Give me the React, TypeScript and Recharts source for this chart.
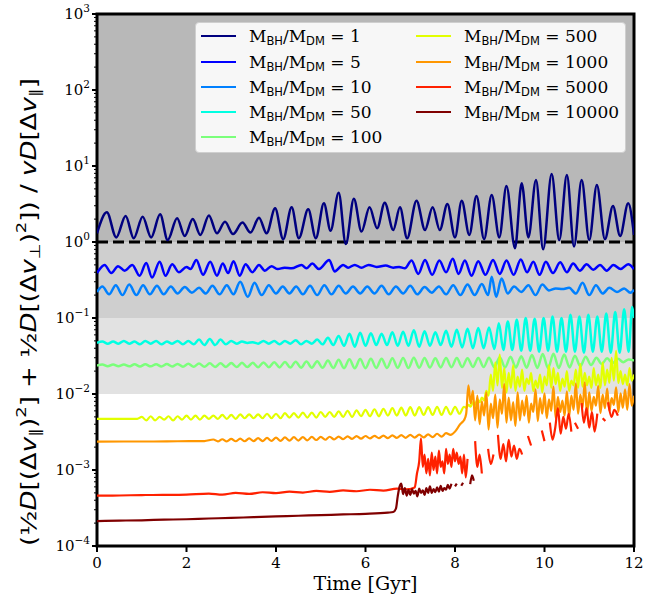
import React from "react";
import {
  LineChart,
  Line,
  XAxis,
  YAxis,
  ReferenceArea,
  ReferenceLine,
  Legend,
  Label,
} from "recharts";

// mass ratios and jet colours
const ratios = ["1", "5", "10", "50", "100", "500", "1000", "5000", "10000"];
const colors = [
  "#00007f",
  "#0000ff",
  "#0080ff",
  "#00ffe2",
  "#7bff7b",
  "#e2ff00",
  "#ff9700",
  "#ff2100",
  "#800000",
];

const xTicks = [0, 2, 4, 6, 8, 10, 12];
const yMajor = [1e-4, 1e-3, 1e-2, 1e-1, 1, 10, 100, 1000];
const yMinorMult = [2, 3, 4, 5, 6, 7, 8, 9];

// [time Gyr, ratio]
const m1 = [
  [0, 1.3], [0.22, 2.46], [0.43, 1.15], [0.64, 2.2], [0.82, 1.12], [1.02, 2.15], [1.21, 1.15],
  [1.41, 2.31], [1.58, 1.06], [1.79, 2.05], [1.96, 1.2], [2.14, 2.0], [2.31, 1.24], [2.5, 2.24],
  [2.68, 1.3], [2.86, 1.85], [3.04, 1.27], [3.25, 1.8], [3.43, 1.33], [3.62, 2.09], [3.79, 1.3],
  [3.98, 2.77], [4.16, 1.09], [4.35, 2.86], [4.51, 1.12], [4.72, 2.69], [4.89, 1.12], [5.07, 3.23],
  [5.22, 1.41], [5.4, 4.45], [5.56, 0.94], [5.74, 3.71], [5.91, 1.37], [6.09, 2.86], [6.26, 1.52],
  [6.43, 3.29], [6.62, 1.44], [6.77, 2.86], [6.93, 1.12], [7.14, 3.49], [7.33, 1.44], [7.5, 2.86],
  [7.66, 1.44], [7.83, 3.16], [8.0, 1.15], [8.15, 3.49], [8.32, 1.24], [8.48, 4.03], [8.65, 1.09],
  [8.82, 4.15], [8.99, 1.15], [9.15, 5.45], [9.34, 0.83], [9.49, 5.92], [9.64, 1.15], [9.81, 6.54],
  [9.97, 0.8], [10.16, 7.85], [10.33, 1.06], [10.5, 7.62], [10.66, 0.87], [10.83, 6.54], [11.0, 1.06],
  [11.17, 5.63], [11.35, 1.09], [11.53, 2.98], [11.69, 1.2], [11.87, 3.23], [12, 1.24],
];

const m5 = [
  [0, 0.39], [0.17, 0.5], [0.32, 0.39], [0.47, 0.48], [0.62, 0.42], [0.79, 0.5], [0.95, 0.36],
  [1.1, 0.53], [1.23, 0.34], [1.4, 0.55], [1.53, 0.36], [1.68, 0.51], [1.83, 0.4], [2.0, 0.47],
  [2.09, 0.44], [2.22, 0.58], [2.37, 0.37], [2.53, 0.55], [2.68, 0.36], [2.81, 0.52], [2.93, 0.39],
  [3.05, 0.56], [3.19, 0.36], [3.32, 0.51], [3.47, 0.4], [3.62, 0.5], [3.75, 0.42], [3.9, 0.48],
  [4.04, 0.44], [4.19, 0.46], [4.35, 0.45], [4.57, 0.5], [4.68, 0.45], [4.81, 0.52], [4.96, 0.44],
  [5.19, 0.58], [5.31, 0.41], [5.5, 0.5], [5.61, 0.46], [5.76, 0.5], [5.91, 0.46], [6.07, 0.5],
  [6.25, 0.47], [6.45, 0.49], [6.62, 0.46], [6.75, 0.47], [6.88, 0.45], [7.03, 0.57], [7.18, 0.38],
  [7.33, 0.58], [7.49, 0.37], [7.65, 0.57], [7.8, 0.4], [7.95, 0.6], [8.08, 0.38], [8.22, 0.57],
  [8.37, 0.36], [8.52, 0.56], [8.68, 0.37], [8.85, 0.58], [9.0, 0.38], [9.15, 0.57], [9.31, 0.37],
  [9.47, 0.59], [9.61, 0.4], [9.75, 0.55], [9.89, 0.37], [10.03, 0.55], [10.19, 0.39], [10.35, 0.54],
  [10.5, 0.4], [10.64, 0.52], [10.79, 0.42], [10.94, 0.51], [11.09, 0.43], [11.24, 0.5], [11.39, 0.42],
  [11.54, 0.5], [11.7, 0.44], [11.87, 0.51], [12, 0.44],
];

const m10 = [
  [0, 0.22], [0.12, 0.26], [0.27, 0.205], [0.42, 0.27], [0.57, 0.2], [0.72, 0.275], [0.88, 0.2],
  [1.03, 0.27], [1.18, 0.205], [1.34, 0.265], [1.49, 0.205], [1.65, 0.26], [1.8, 0.21], [1.96, 0.255],
  [2.12, 0.215], [2.28, 0.25], [2.43, 0.21], [2.58, 0.265], [2.74, 0.205], [2.9, 0.27], [3.05, 0.205],
  [3.2, 0.3], [3.37, 0.19], [3.52, 0.29], [3.68, 0.2], [3.84, 0.27], [4.0, 0.21], [4.15, 0.26],
  [4.3, 0.21], [4.45, 0.26], [4.6, 0.205], [4.76, 0.265], [4.92, 0.2], [5.08, 0.27], [5.24, 0.205],
  [5.4, 0.265], [5.56, 0.21], [5.72, 0.26], [5.88, 0.21], [6.04, 0.26], [6.2, 0.21], [6.36, 0.265],
  [6.52, 0.205], [6.68, 0.26], [6.84, 0.21], [7.0, 0.265], [7.16, 0.205], [7.32, 0.255], [7.48, 0.215],
  [7.64, 0.26], [7.8, 0.205], [7.96, 0.27], [8.12, 0.2], [8.28, 0.275], [8.44, 0.2], [8.6, 0.28],
  [8.74, 0.2], [8.82, 0.35], [8.92, 0.19], [9.04, 0.33], [9.18, 0.21], [9.32, 0.26], [9.48, 0.22],
  [9.64, 0.27], [9.8, 0.2], [9.95, 0.275], [10.1, 0.23], [10.25, 0.245], [10.4, 0.24], [10.55, 0.25],
  [10.7, 0.21], [10.85, 0.29], [11.0, 0.2], [11.15, 0.27], [11.3, 0.21], [11.45, 0.25], [11.62, 0.22],
  [11.78, 0.245], [11.92, 0.215], [12, 0.235],
];

const m50 = [
  [0, 0.047], [0.12, 0.049], [0.24, 0.046], [0.36, 0.049], [0.48, 0.046], [0.6, 0.05], [0.72, 0.046],
  [0.84, 0.049], [0.96, 0.045], [1.08, 0.05], [1.2, 0.046], [1.32, 0.05], [1.44, 0.045], [1.56, 0.049],
  [1.68, 0.046], [1.8, 0.05], [1.92, 0.045], [2.04, 0.05], [2.16, 0.045], [2.28, 0.052], [2.4, 0.044],
  [2.52, 0.053], [2.64, 0.044], [2.76, 0.052], [2.88, 0.045], [3.0, 0.05], [3.12, 0.046], [3.24, 0.049],
  [3.36, 0.047], [3.48, 0.048], [3.6, 0.046], [3.72, 0.05], [3.84, 0.046], [3.96, 0.05], [4.08, 0.045],
  [4.2, 0.05], [4.32, 0.046], [4.44, 0.051], [4.56, 0.045], [4.68, 0.05], [4.8, 0.046], [4.92, 0.052],
  [5.04, 0.045], [5.16, 0.055], [5.28, 0.044], [5.4, 0.058], [5.52, 0.043], [5.64, 0.062], [5.76, 0.042],
  [5.88, 0.064], [6.0, 0.043], [6.12, 0.063], [6.24, 0.044], [6.36, 0.062], [6.48, 0.044], [6.6, 0.065],
  [6.72, 0.043], [6.84, 0.066], [6.96, 0.043], [7.08, 0.069], [7.2, 0.042], [7.32, 0.067], [7.44, 0.043],
  [7.56, 0.065], [7.68, 0.044], [7.8, 0.068], [7.92, 0.042], [8.04, 0.07], [8.16, 0.041], [8.28, 0.072],
  [8.4, 0.04], [8.52, 0.074], [8.64, 0.04], [8.76, 0.075], [8.88, 0.039], [8.98, 0.085], [9.08, 0.038],
  [9.18, 0.09], [9.28, 0.038], [9.38, 0.095], [9.48, 0.037], [9.58, 0.1], [9.68, 0.037], [9.78, 0.098],
  [9.88, 0.036], [9.98, 0.1], [10.08, 0.037], [10.18, 0.105], [10.28, 0.036], [10.38, 0.1], [10.48, 0.036],
  [10.58, 0.11], [10.68, 0.036], [10.78, 0.105], [10.88, 0.035], [10.98, 0.11], [11.08, 0.036],
  [11.18, 0.105], [11.28, 0.036], [11.38, 0.115], [11.48, 0.035], [11.58, 0.12], [11.68, 0.035],
  [11.78, 0.13], [11.88, 0.036], [11.96, 0.14], [12, 0.1],
];

const m100 = [
  [0, 0.0236], [0.12, 0.0244], [0.24, 0.0231], [0.36, 0.0245], [0.48, 0.0232], [0.6, 0.0244],
  [0.72, 0.0231], [0.84, 0.0246], [0.96, 0.023], [1.08, 0.0246], [1.2, 0.0231], [1.32, 0.0247],
  [1.44, 0.023], [1.56, 0.0248], [1.68, 0.023], [1.8, 0.0249], [1.92, 0.0229], [2.04, 0.025],
  [2.16, 0.0228], [2.28, 0.0252], [2.4, 0.0228], [2.52, 0.0253], [2.64, 0.0227], [2.76, 0.0254],
  [2.88, 0.0227], [3.0, 0.0256], [3.12, 0.0226], [3.24, 0.0257], [3.36, 0.0226], [3.48, 0.0258],
  [3.6, 0.0225], [3.72, 0.026], [3.84, 0.0225], [3.96, 0.0262], [4.08, 0.0224], [4.2, 0.0264],
  [4.32, 0.0223], [4.44, 0.0266], [4.56, 0.0222], [4.68, 0.0268], [4.8, 0.0222], [4.92, 0.027],
  [5.04, 0.0221], [5.16, 0.0275], [5.28, 0.022], [5.4, 0.0282], [5.52, 0.0219], [5.64, 0.0286],
  [5.76, 0.0218], [5.88, 0.0288], [6.0, 0.0219], [6.12, 0.029], [6.24, 0.022], [6.36, 0.0292],
  [6.48, 0.022], [6.6, 0.0295], [6.72, 0.0221], [6.84, 0.0298], [6.96, 0.022], [7.08, 0.03],
  [7.2, 0.0222], [7.32, 0.0298], [7.44, 0.0223], [7.56, 0.0296], [7.68, 0.0224], [7.8, 0.0298],
  [7.92, 0.0225], [8.04, 0.0297], [8.16, 0.0226], [8.28, 0.0296], [8.4, 0.0227], [8.52, 0.0298],
  [8.64, 0.0226], [8.76, 0.03], [8.88, 0.0225], [9.0, 0.0304], [9.12, 0.0224], [9.24, 0.0308],
  [9.36, 0.0223], [9.48, 0.0315], [9.6, 0.0222], [9.72, 0.0325], [9.84, 0.022], [9.96, 0.0335],
  [10.08, 0.0219], [10.2, 0.0338], [10.32, 0.022], [10.44, 0.033], [10.56, 0.0224], [10.68, 0.0318],
  [10.8, 0.0232], [10.92, 0.031], [11.04, 0.024], [11.16, 0.03], [11.28, 0.0248], [11.4, 0.0295],
  [11.52, 0.0255], [11.64, 0.029], [11.76, 0.0262], [11.88, 0.0285], [12, 0.0275],
];

const m500 = [
  [0, 0.0047], [0.5, 0.00471], [0.9, 0.00472], [1.0, 0.005], [1.1, 0.0045], [1.2, 0.0051], [1.3, 0.0045],
  [1.4, 0.005], [1.5, 0.0046], [1.6, 0.0051], [1.7, 0.0045], [1.8, 0.0051], [1.9, 0.0046], [2.0, 0.0052],
  [2.1, 0.0046], [2.2, 0.0052], [2.3, 0.0046], [2.4, 0.0052], [2.5, 0.0047], [2.6, 0.0052], [2.7, 0.0047],
  [2.8, 0.0053], [2.9, 0.0047], [3.0, 0.0053], [3.1, 0.0047], [3.2, 0.0054], [3.3, 0.0048], [3.4, 0.0054],
  [3.5, 0.0048], [3.6, 0.0054], [3.7, 0.0048], [3.8, 0.0055], [3.9, 0.0048], [4.0, 0.0055], [4.1, 0.0048],
  [4.2, 0.0056], [4.3, 0.0049], [4.4, 0.0056], [4.5, 0.0049], [4.6, 0.0057], [4.7, 0.0049], [4.8, 0.0057],
  [4.9, 0.0049], [5.0, 0.0058], [5.1, 0.005], [5.2, 0.0058], [5.3, 0.005], [5.4, 0.0059], [5.5, 0.005],
  [5.6, 0.006], [5.7, 0.005], [5.8, 0.0061], [5.9, 0.0051], [6.0, 0.0062], [6.1, 0.0051], [6.2, 0.0063],
  [6.3, 0.0051], [6.4, 0.0064], [6.5, 0.0052], [6.6, 0.0065], [6.7, 0.0052], [6.8, 0.0066], [6.9, 0.0052],
  [7.0, 0.0067], [7.1, 0.0052], [7.2, 0.0067], [7.3, 0.0053], [7.4, 0.0067], [7.5, 0.0053], [7.6, 0.0068],
  [7.7, 0.0053], [7.8, 0.0068], [7.9, 0.0054], [8.0, 0.0068], [8.1, 0.0055], [8.2, 0.0068],
  [8.25, 0.0066], [8.3, 0.0072], [8.35, 0.0068], [8.4, 0.0078], [8.45, 0.0072], [8.5, 0.0085],
  [8.55, 0.0078], [8.6, 0.009], [8.65, 0.0082], [8.7, 0.011], [8.75, 0.0095], [8.8, 0.018], [8.85, 0.011],
  [8.9, 0.026], [8.95, 0.013], [9.0, 0.033], [9.05, 0.012], [9.1, 0.022], [9.15, 0.0105], [9.2, 0.019],
  [9.25, 0.012], [9.3, 0.024], [9.35, 0.011], [9.4, 0.017], [9.45, 0.0125], [9.5, 0.021], [9.55, 0.011],
  [9.6, 0.016], [9.65, 0.0135], [9.7, 0.019], [9.75, 0.011], [9.8, 0.015], [9.85, 0.012], [9.9, 0.018],
  [9.95, 0.0105], [10.0, 0.017], [10.05, 0.013], [10.1, 0.024], [10.15, 0.012], [10.2, 0.022],
  [10.25, 0.0135], [10.3, 0.019], [10.35, 0.011], [10.4, 0.016], [10.45, 0.0125], [10.5, 0.02],
  [10.55, 0.011], [10.6, 0.015], [10.65, 0.013], [10.7, 0.021], [10.75, 0.012], [10.8, 0.025],
  [10.85, 0.0125], [10.9, 0.019], [10.95, 0.013], [11.0, 0.017], [11.05, 0.012], [11.1, 0.022],
  [11.15, 0.013], [11.2, 0.018], [11.25, 0.012], [11.3, 0.026], [11.35, 0.013], [11.4, 0.021],
  [11.45, 0.014], [11.5, 0.03], [11.55, 0.015], [11.6, 0.037], [11.65, 0.014], [11.7, 0.02],
  [11.75, 0.0135], [11.8, 0.018], [11.85, 0.013], [11.9, 0.022], [11.95, 0.015], [12, 0.018],
];

const m1000 = [
  [0, 0.00236], [0.6, 0.00237], [1.2, 0.00237], [1.8, 0.00239], [2.4, 0.0024], [2.6, 0.00252],
  [2.7, 0.00238], [2.8, 0.00254], [2.9, 0.00238], [3.0, 0.00256], [3.1, 0.00239], [3.2, 0.00258],
  [3.3, 0.00239], [3.4, 0.0026], [3.5, 0.0024], [3.6, 0.00262], [3.7, 0.0024], [3.8, 0.00264],
  [3.9, 0.00241], [4.0, 0.00266], [4.1, 0.00242], [4.2, 0.00268], [4.3, 0.00243], [4.4, 0.0027],
  [4.5, 0.00244], [4.6, 0.00271], [4.7, 0.00246], [4.8, 0.00272], [4.9, 0.00248], [5.0, 0.00273],
  [5.1, 0.0025], [5.2, 0.00274], [5.3, 0.00252], [5.4, 0.00275], [5.5, 0.00254], [5.6, 0.00277],
  [5.7, 0.00256], [5.8, 0.00279], [5.9, 0.00258], [6.0, 0.0028], [6.1, 0.0026], [6.2, 0.00282],
  [6.3, 0.00262], [6.4, 0.00284], [6.5, 0.00263], [6.6, 0.00286], [6.7, 0.00264], [6.8, 0.00288],
  [6.9, 0.00265], [7.0, 0.0029], [7.1, 0.00267], [7.2, 0.00292], [7.3, 0.00268], [7.4, 0.00295],
  [7.5, 0.0027], [7.6, 0.003], [7.7, 0.00275], [7.8, 0.00305], [7.9, 0.0029], [8.0, 0.0032],
  [8.05, 0.0035], [8.1, 0.0039], [8.15, 0.0042], [8.2, 0.0045], [8.25, 0.0055],
  [8.3, 0.013], [8.35, 0.0075], [8.4, 0.011], [8.45, 0.0045], [8.5, 0.0095], [8.55, 0.004],
  [8.6, 0.008], [8.65, 0.0052], [8.7, 0.0105], [8.75, 0.0034], [8.8, 0.0075], [8.85, 0.0048],
  [8.9, 0.0098], [8.95, 0.0036], [9.0, 0.0085], [9.05, 0.0055], [9.1, 0.0135], [9.15, 0.0042],
  [9.2, 0.009], [9.25, 0.0045], [9.3, 0.0078], [9.35, 0.0038], [9.4, 0.0105], [9.45, 0.0045],
  [9.5, 0.0082], [9.55, 0.0052], [9.6, 0.0095], [9.65, 0.0042], [9.7, 0.0075], [9.75, 0.0058],
  [9.8, 0.0115], [9.85, 0.0044], [9.9, 0.0088], [9.95, 0.0055], [10.0, 0.0102], [10.05, 0.0048],
  [10.1, 0.0085], [10.15, 0.006], [10.2, 0.0125], [10.25, 0.0048], [10.3, 0.0092], [10.35, 0.0058],
  [10.4, 0.0082], [10.45, 0.0052], [10.5, 0.0108], [10.55, 0.005], [10.6, 0.0095], [10.65, 0.0062],
  [10.7, 0.0138], [10.75, 0.0055], [10.8, 0.0098], [10.85, 0.0066], [10.9, 0.0142], [10.95, 0.0053],
  [11.0, 0.0105], [11.05, 0.006], [11.1, 0.0092], [11.15, 0.007], [11.2, 0.0128], [11.25, 0.0056],
  [11.3, 0.0098], [11.35, 0.0065], [11.4, 0.0118], [11.45, 0.006], [11.5, 0.0088], [11.55, 0.0072],
  [11.6, 0.0122], [11.65, 0.0058], [11.7, 0.0102], [11.75, 0.0066], [11.8, 0.0115], [11.85, 0.0062],
  [11.9, 0.0135], [11.95, 0.007], [12, 0.0095],
];

const m5000 = [
  [0, 0.00046], [0.5, 0.000462], [1.0, 0.000468], [1.5, 0.00047], [2.0, 0.000475], [2.5, 0.00049],
  [2.8, 0.000475], [3.1, 0.0005], [3.4, 0.000485], [3.7, 0.00051], [4.0, 0.000495], [4.3, 0.00052],
  [4.6, 0.000505], [4.9, 0.00053], [5.2, 0.000515], [5.5, 0.00054], [5.8, 0.000525], [6.1, 0.00055],
  [6.4, 0.000535], [6.7, 0.00057], [6.9, 0.000555], [7.1, 0.00059],
  [7.15, 0.0009], [7.2, 0.0013], [7.24, 0.0026], [7.28, 0.0011], [7.32, 0.0016], [7.36, 0.0009],
  [7.4, 0.0014], [7.44, 0.00085], [7.48, 0.0017], [7.52, 0.001], [7.56, 0.0015], [7.6, 0.0009],
  [7.64, 0.0018], [7.68, 0.0011], [7.72, 0.0013], [7.76, 0.0009], [7.8, 0.0019], [7.84, 0.0012],
  [7.88, 0.0016], [7.92, 0.0011], [7.96, 0.0019], [8.0, 0.0013], [8.04, 0.0017], [8.08, 0.0012],
  [8.12, 0.0015], [8.16, 0.0009], [8.2, 0.0016], [8.24, 0.0008], [8.28, 0.0014], [8.32, null],
  [8.45, 0.0024], [8.5, 0.0011], [8.55, 0.0016], [8.6, 0.0009], [8.66, null],
  [8.74, 0.0019], [8.8, 0.0012], [8.86, 0.0016], [8.92, null],
  [8.96, 0.0029], [9.02, 0.0014], [9.08, 0.0022], [9.14, 0.0013], [9.2, 0.0025], [9.26, 0.0015],
  [9.32, 0.0021], [9.38, 0.0014], [9.44, 0.0019], [9.5, 0.0016], [9.55, null],
  [9.63, 0.0028], [9.7, 0.0021], [9.75, null],
  [9.94, 0.0033], [10.0, 0.0024], [10.05, null],
  [10.12, 0.0042], [10.18, 0.0025], [10.24, 0.0036], [10.3, 0.0065], [10.36, 0.003], [10.42, 0.005],
  [10.48, 0.0035], [10.54, 0.0055], [10.6, 0.0032], [10.64, null],
  [10.68, 0.0042], [10.75, 0.0035], [10.79, null],
  [10.83, 0.0076], [10.88, 0.0042], [10.94, 0.0065], [11.0, 0.0036], [11.06, 0.0058], [11.12, 0.0032],
  [11.18, 0.0055], [11.22, null],
  [11.3, 0.0048], [11.36, 0.0044], [11.4, null],
  [11.42, 0.0078], [11.5, 0.005], [11.56, 0.0062], [11.64, 0.0052], [11.68, null],
];

const m10000 = [
  [0, 0.000213], [0.5, 0.000216], [1.0, 0.000218], [1.5, 0.000222], [2.0, 0.000225], [2.5, 0.00023],
  [3.0, 0.000234], [3.5, 0.00024], [4.0, 0.000245], [4.5, 0.00025], [5.0, 0.000255], [5.5, 0.00026],
  [6.0, 0.000265], [6.5, 0.000275], [6.62, 0.00028], [6.68, 0.00031], [6.72, 0.00045], [6.76, 0.0006],
  [6.8, 0.00066], [6.84, 0.00048], [6.88, 0.00058], [6.92, 0.00046], [6.96, 0.00055], [7.0, 0.00047],
  [7.04, 0.00056], [7.08, 0.00049], [7.12, 0.00053], [7.16, 0.00045], [7.2, 0.00057], [7.24, 0.0005],
  [7.28, 0.00054], [7.32, 0.00047], [7.36, 0.00058], [7.4, 0.0005], [7.44, 0.00061], [7.48, 0.0005],
  [7.52, 0.00056], [7.56, 0.00051], [7.6, 0.00059], [7.64, 0.00052], [7.68, 0.00062], [7.72, 0.00053],
  [7.76, 0.00058], [7.8, 0.00055], [7.84, 0.00064], [7.88, 0.00057], [7.92, 0.00066], [7.96, null],
  [8.0, 0.00061], [8.04, 0.00066], [8.08, null], [8.14, 0.00062], [8.18, 0.00068], [8.2, null],
  [8.34, 0.00065], [8.38, 0.00085], [8.42, 0.00072], [8.46, null],
];

const seriesData = [m1, m5, m10, m50, m100, m500, m1000, m5000, m10000];

const toPoints = (arr: (number | null)[][]) => arr.map(([t, v]) => ({ t, v }));

const majorSet = new Set(yMajor);
const yTicks = [
  ...yMajor,
  ...yMajor.slice(0, -1).flatMap((d) => yMinorMult.map((m) => m * d)),
];

const serif = '"DejaVu Serif", serif';
const sans = '"DejaVu Sans", sans-serif';

// eslint-disable-next-line @typescript-eslint/no-explicit-any
function YTick(props: any) {
  const { x, y, payload } = props;
  const v = payload.value;
  if (!majorSet.has(v)) {
    return <line x1={x - 3} x2={x} y1={y} y2={y} stroke="#000" strokeWidth={1} />;
  }
  const exp = Math.round(Math.log10(v));
  return (
    <g>
      <line x1={x - 5} x2={x} y1={y} y2={y} stroke="#000" strokeWidth={2} />
      <text x={x - 7} y={y + 5} textAnchor="end" fontFamily={serif} fontSize={15} fill="#000">
        10
        <tspan dy={-7} fontSize={10.5}>
          {exp < 0 ? "\u2212" + -exp : String(exp)}
        </tspan>
      </text>
    </g>
  );
}

// eslint-disable-next-line @typescript-eslint/no-explicit-any
function XTick(props: any) {
  const { x, y, payload } = props;
  return (
    <g>
      <line x1={x} x2={x} y1={y} y2={y + 6} stroke="#000" strokeWidth={2} />
      <text x={x} y={y + 22} textAnchor="middle" fontFamily={serif} fontSize={15} fill="#000">
        {payload.value}
      </text>
    </g>
  );
}

const yLabelParts: [string, string][] = [
  ["(", "n"], ["\u00bd", "n"], ["D", "i"], ["[(\u0394", "n"], ["v", "i"], ["\u2225", "sub"],
  [")", "n"], ["2", "sup"], ["] + ", "n"], ["\u00bd", "n"], ["D", "i"], ["[(\u0394", "n"],
  ["v", "i"], ["\u22a5", "sub"], [")", "n"], ["2", "sup"], ["]) / ", "n"], ["v", "i"], ["D", "i"],
  ["[\u0394", "n"], ["v", "i"], ["\u2225", "sub"], ["]", "n"],
];

// eslint-disable-next-line @typescript-eslint/no-explicit-any
function YLabel(props: any) {
  const vb = props.viewBox || { x: 37, y: 14, width: 60, height: 532 };
  const cx = vb.x - 8;
  const cy = vb.y + vb.height / 2 + 32;
  let cur = 0;
  return (
    <text
      transform={`rotate(-90, ${cx}, ${cy})`}
      x={cx}
      y={cy}
      textAnchor="middle"
      fontFamily={sans}
      fontSize={21}
      fill="#000"
      dominantBaseline="central"
      textLength={468}
      lengthAdjust="spacingAndGlyphs"
    >
      {yLabelParts.map(([s, k], i) => {
        const target = k === "sub" ? 6 : k === "sup" ? -8 : 0;
        const dy = target - cur;
        cur = target;
        return (
          <tspan
            key={i}
            dy={dy}
            fontStyle={k === "i" ? "italic" : "normal"}
            fontSize={k === "sub" || k === "sup" ? 14.5 : 21}
          >
            {s}
          </tspan>
        );
      })}
    </text>
  );
}

// eslint-disable-next-line @typescript-eslint/no-explicit-any
function XLabel(props: any) {
  const vb = props.viewBox || { x: 97, y: 546, width: 537, height: 30 };
  return (
    <text
      x={vb.x + vb.width / 2}
      y={vb.y + 44}
      textAnchor="middle"
      fontFamily={serif}
      fontSize={19}
      fill="#000"
    >
      Time [Gyr]
    </text>
  );
}

function LegendBox() {
  return (
    <div
      style={{
        width: 431,
        height: 131,
        boxSizing: "border-box",
        background: "rgba(255,255,255,0.88)",
        border: "1px solid #cfcfcf",
        borderRadius: 4,
        position: "relative",
        fontFamily: serif,
        fontSize: 17,
        color: "#000",
      }}
    >
      {ratios.map((r, i) => {
        const col = i < 5 ? 0 : 1;
        const row = col ? i - 5 : i;
        return (
          <div
            key={r}
            style={{
              position: "absolute",
              left: 5 + col * 215,
              top: 3.2 + row * 25.3,
              height: 20,
              display: "flex",
              alignItems: "center",
              whiteSpace: "nowrap",
            }}
          >
            <span
              style={{
                display: "inline-block",
                width: 35,
                height: 0,
                borderTop: `2.5px solid ${colors[i]}`,
              }}
            />
            <span style={{ marginLeft: 13 }}>
              M
              <span style={{ fontFamily: sans, fontSize: 11.5, position: "relative", top: 3 }}>BH</span>
              /M
              <span style={{ fontFamily: sans, fontSize: 11.5, position: "relative", top: 3 }}>DM</span>
              {" = " + r}
            </span>
          </div>
        );
      })}
    </div>
  );
}

export default function App() {
  return (
    <div style={{ position: "absolute", left: 0, top: 0, width: 664, height: 598, background: "#fff" }}>
      <LineChart
        width={664}
        height={598}
        margin={{ top: 14, right: 30, bottom: 22, left: 37 }}
      >
        <XAxis
          type="number"
          dataKey="t"
          domain={[0, 12]}
          ticks={xTicks}
          interval={0}
          allowDataOverflow
          axisLine={false}
          tickLine={false}
          tickSize={0}
          tickMargin={0}
          height={30}
          tick={<XTick />}
        >
          <Label content={<XLabel />} />
        </XAxis>
        <YAxis
          type="number"
          scale="log"
          domain={[1e-4, 1000]}
          ticks={yTicks}
          interval={0}
          allowDataOverflow
          axisLine={false}
          tickLine={false}
          tickSize={0}
          tickMargin={0}
          width={60}
          tick={<YTick />}
        >
          <Label content={<YLabel />} />
        </YAxis>
        <ReferenceArea y1={0.01} y2={0.1} fill="#e2e2e2" fillOpacity={1} stroke="none" />
        <ReferenceArea y1={0.1} y2={1} fill="#cfcfcf" fillOpacity={1} stroke="none" />
        <ReferenceArea y1={1} y2={1000} fill="#b8b8b8" fillOpacity={1} stroke="none" />
        <ReferenceLine y={1} stroke="#000" strokeWidth={3} strokeDasharray="11 5" />
        {seriesData.map((arr, i) => (
          <Line
            key={ratios[i]}
            data={toPoints(arr)}
            dataKey="v"
            name={`M_BH/M_DM = ${ratios[i]}`}
            type="monotone"
            stroke={colors[i]}
            strokeWidth={i < 5 ? 2.5 : 2.2}
            dot={false}
            activeDot={false}
            connectNulls={false}
            isAnimationActive={false}
          />
        ))}
        <ReferenceArea
          x1={0}
          x2={12}
          y1={1e-4}
          y2={1000}
          fill="none"
          stroke="#000"
          strokeWidth={3}
        />
        <Legend
          layout="horizontal"
          verticalAlign="middle"
          align="center"
          content={() => <LegendBox />}
          wrapperStyle={{ left: 195, top: 22, width: 431, height: 131 }}
        />
      </LineChart>
    </div>
  );
}
